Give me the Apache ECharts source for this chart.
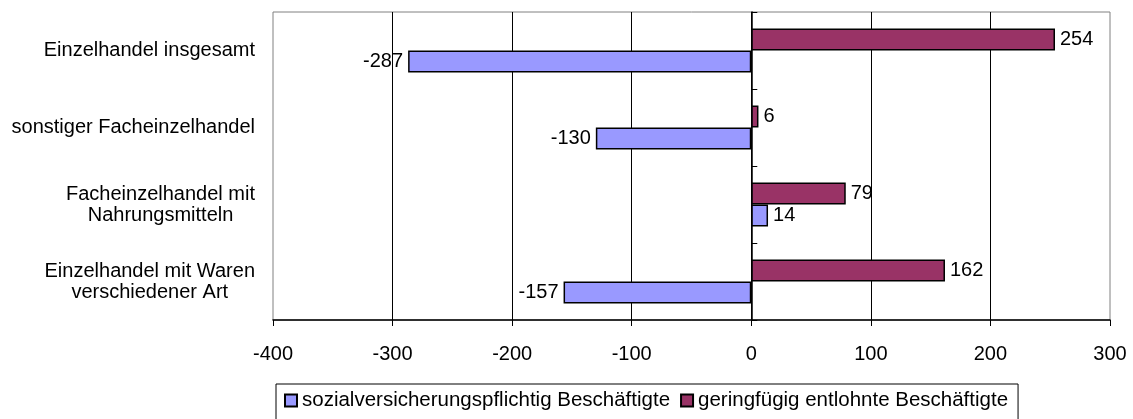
<!DOCTYPE html>
<html>
<head>
<meta charset="utf-8">
<script src="https://cdn.jsdelivr.net/npm/echarts@6/dist/echarts.min.js"></script>
<style>
  html, body { margin: 0; padding: 0; background: #fff; }
  #main { width: 1133px; height: 419px; }
</style>
</head>
<body>
<div id="main"></div>
<script>
// Kategorien (von oben nach unten)
var categories = [
  "Einzelhandel insgesamt",
  "sonstiger Facheinzelhandel",
  "Facheinzelhandel mit\nNahrungsmitteln",
  "Einzelhandel mit Waren\nverschiedener Art"
];
var seriesNames = ["sozialversicherungspflichtig Beschäftigte", "geringfügig entlohnte Beschäftigte"];
var sozialValues = [-287, -130, 14, -157];
var geringValues = [254, 6, 79, 162];

var FONT = "Liberation Sans, Arial, sans-serif";
var FS = 20;

// Label links bei negativen, rechts bei positiven Werten
function withLabels(values) {
  return values.map(function (v) {
    return { value: v, label: { position: v < 0 ? "left" : "right" } };
  });
}

var myChart = echarts.init(document.getElementById("main"));

var option = {
  animation: false,
  textStyle: { fontFamily: FONT },
  grid: {
    left: 273, right: 23, top: 12, bottom: 99,
    show: true, borderColor: "#808080", borderWidth: 1
  },
  legend: {
    left: 276, top: 384,
    data: seriesNames, // Reihenfolge wie im Original
    itemWidth: 12, itemHeight: 12, itemGap: 10,
    icon: "rect",
    borderColor: "#000", borderWidth: 1,
    padding: [6, 10, 20, 8],
    textStyle: { fontSize: 20.5, color: "#000", fontFamily: FONT }
  },
  xAxis: {
    type: "value",
    min: -400, max: 300, interval: 100,
    axisLine: { show: true, lineStyle: { color: "#000", width: 1.5 } },
    axisTick: { show: true, length: 6, lineStyle: { color: "#000" } },
    axisLabel: { margin: 24, fontSize: FS, color: "#000", fontFamily: FONT },
    splitLine: { show: true, showMinLine: false, showMaxLine: false, lineStyle: { color: "#000" } }
  },
  yAxis: [
    {
      type: "category",
      data: categories,
      inverse: true,
      axisLine: { show: false, onZero: false },
      axisTick: { show: false },
      axisLabel: {
        margin: 18, fontSize: FS, color: "#000", fontFamily: FONT, lineHeight: 21,
        // zweizeilige Labels zentriert untereinander
        formatter: function (v) {
          return v.split("\n").map(function (s) { return "{c|" + s + "}"; }).join("\n");
        },
        rich: { c: { align: "center", fontSize: FS, lineHeight: 21, color: "#000", fontFamily: FONT } }
      }
    },
    {
      // Nulllinie mit Kategorie-Strichen
      type: "category",
      data: categories,
      inverse: true,
      axisLine: { show: true, onZero: true, lineStyle: { color: "#000", width: 1.5 } },
      axisTick: { show: true, length: 6, lineStyle: { color: "#000" } },
      axisLabel: { show: false }
    }
  ],
  series: [
    {
      name: seriesNames[1],
      type: "bar",
      yAxisIndex: 0,
      barGap: "0%",
      barCategoryGap: "43%",
      itemStyle: { color: "#993366", borderColor: "#000", borderWidth: 1.5 },
      label: { show: true, distance: 5, fontSize: FS, color: "#000", fontFamily: FONT },
      data: withLabels(geringValues)
    },
    {
      name: seriesNames[0],
      type: "bar",
      yAxisIndex: 0,
      barGap: "0%",
      barCategoryGap: "43%",
      itemStyle: { color: "#9999FF", borderColor: "#000", borderWidth: 1.5 },
      label: { show: true, distance: 5, fontSize: FS, color: "#000", fontFamily: FONT },
      data: withLabels(sozialValues)
    }
  ]
};

myChart.setOption(option);
</script>
</body>
</html>
